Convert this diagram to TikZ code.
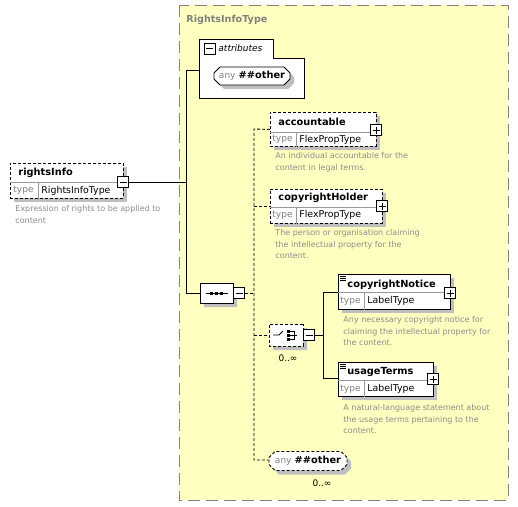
\documentclass[tikz,border=0pt]{standalone}
\usepackage{fontspec}
\setmainfont{DejaVu Sans}
\usetikzlibrary{shapes.misc}
\usetikzlibrary{shadows}
\definecolor{typebg}{RGB}{255,255,192}
\tikzstyle{shade} = [general shadow={fill=black!25, shadow xshift=4pt, shadow yshift=-4pt}]
\tikzstyle{elem} = [draw, fill=white, anchor=north west, inner sep=0pt, shade]
\tikzstyle{opt} = [dash pattern=on 3pt off 2pt]
\tikzstyle{divider} = [black!40]
\tikzstyle{ename} = [anchor=west, inner sep=0pt, font=\fontsize{9.8}{12}\selectfont\bfseries]
\tikzstyle{tlabel} = [anchor=west, inner sep=0pt, text=black!50, font=\fontsize{9}{11}\selectfont]
\tikzstyle{tname} = [anchor=west, inner sep=0pt, font=\fontsize{9.4}{11}\selectfont]
\tikzstyle{descr} = [anchor=north west, inner sep=0pt, text=black!45, align=left, font=\fontsize{8}{11.5}\selectfont]
\tikzstyle{occurs} = [inner sep=0pt, font=\fontsize{9}{11}\selectfont]
\tikzstyle{minus} = [draw, fill=white, minimum size=11pt, inner sep=0pt, path picture={\draw ([xshift=2pt]path picture bounding box.west) -- ([xshift=-2pt]path picture bounding box.east);}]
\tikzstyle{plus} = [draw, fill=white, minimum size=11pt, inner sep=0pt, path picture={\draw ([xshift=2pt]path picture bounding box.west) -- ([xshift=-2pt]path picture bounding box.east); \draw ([yshift=-2pt]path picture bounding box.north) -- ([yshift=2pt]path picture bounding box.south);}]
\tikzstyle{comp} = [draw, fill=white, chamfered rectangle, chamfered rectangle xsep=5pt, chamfered rectangle ysep=5pt, inner sep=0pt, shade]
\tikzstyle{wild} = [draw, fill=white, chamfered rectangle, chamfered rectangle xsep=3pt, chamfered rectangle ysep=3pt, inner sep=0pt, shade]

\begin{document}
\begin{tikzpicture}[x=1pt, y=-1pt, line width=0.9pt]
	\useasboundingbox (0,0) rectangle (518,506);
	% complex type
	\draw[black!50, fill=typebg, dash pattern=on 12pt off 6pt] (179,5) rectangle (508,500);
	\node[anchor=west, inner sep=0pt, text=black!50, font=\fontsize{9.6}{12}\selectfont\bfseries] (rit) at (186,20) {RightsInfoType};

	% rightsInfo
	\node[elem, opt, minimum width=113pt, minimum height=35pt] (ri) at (10,163) {};
	\draw[divider] (ri.west |- 0,182) -- (ri.east |- 0,182);
	\draw[divider] (38,182) -- (ri.south -| 38,0);
	\node[ename] (ri-n) at (18,172.5) {rightsInfo};
	\node[tlabel] (ri-t) at (13,190.5) {type};
	\node[tname] (ri-tn) at (41,190.5) {RightsInfoType};
	\node[minus] (ri-m) at (123,182) {};
	\node[descr] (ri-d) at (15,205) {Expression of rights to be applied to\\content};

	% attributes
	\node[anchor=north west, minimum width=105pt, minimum height=59pt, inner sep=0pt] (attr) at (199,39) {};
	\draw[fill=white] (attr.north west) -- ++(74,0) -- ++(0,19) -| (attr.south east) -- (attr.south west) -- cycle;
	\node[minus] (attr-m) at (209.5,48.5) {};
	\node[anchor=west, inner sep=0pt, font=\fontsize{9}{11}\selectfont\itshape] (attr-n) at (218,48.5) {attributes};
	\node[wild, minimum width=76pt, minimum height=18pt] (any1) at (252,76) {\textcolor{black!50}{\fontsize{9}{11}\selectfont any} {\fontsize{9.8}{12}\selectfont\bfseries\#\#other}};

	% sequence
	\coordinate (t1) at (186,70);
	\coordinate (t2) at (186,293);
	\node[comp, minimum width=33pt, minimum height=20pt] (seq) at (216.5,293) {};
	\draw ([shift={(-11,0)}]seq.center) -- ([shift={(11,0)}]seq.center);
	\foreach \dx in {-5,0,5}
		\fill ([shift={(\dx-1.5,-1.5)}]seq.center) rectangle ++(3,3);
	\node[minus, anchor=west] (seq-m) at (seq.east) {};
	\draw (ri-m.east) -- (ri-m -| t1);
	\draw (t1 -| attr.west) -- (t1) -- (t2) -- (seq.west);

	% accountable
	\node[elem, opt, minimum width=106pt, minimum height=34pt] (acc) at (270,112) {};
	\draw[divider] (acc.west |- 0,132) -- (acc.east |- 0,132);
	\draw[divider] (296,132) -- (acc.south -| 296,0);
	\node[ename] (acc-n) at (278,121.5) {accountable};
	\node[tlabel] (acc-t) at (272,139.5) {type};
	\node[tname] (acc-tn) at (299,139.5) {FlexPropType};
	\node[plus] (acc-p) at (376,130) {};
	\node[descr] (acc-d) at (275,152) {An individual accountable for the\\content in legal terms.};

	% copyrightHolder
	\node[elem, opt, minimum width=112pt, minimum height=34pt] (ch) at (270,189) {};
	\draw[divider] (ch.west |- 0,207) -- (ch.east |- 0,207);
	\draw[divider] (296,207) -- (ch.south -| 296,0);
	\node[ename] (ch-n) at (278,198) {copyrightHolder};
	\node[tlabel] (ch-t) at (272,215) {type};
	\node[tname] (ch-tn) at (299,215) {FlexPropType};
	\node[plus] (ch-p) at (382,206) {};
	\node[descr] (ch-d) at (275,229) {The person or organisation claiming\\the intellectual property for the\\content.};

	% choice
	\node[comp, opt, minimum width=34pt, minimum height=22pt] (chc) at (286,335) {};
	\draw ([shift={(-13,0)}]chc.center) -- ([shift={(-7,0)}]chc.center) -- ([shift={(-3,-4)}]chc.center);
	\foreach \dy in {-4,0,4}
		\fill ([shift={(1,\dy-1.5)}]chc.center) rectangle ++(3,3);
	\draw ([shift={(4,-4)}]chc.center) -- ([shift={(8,-4)}]chc.center) -- ([shift={(8,4)}]chc.center) -- ([shift={(4,4)}]chc.center);
	\draw ([shift={(4,0)}]chc.center) -- ([shift={(11,0)}]chc.center);
	\node[minus, anchor=west] (chc-m) at (chc.east) {};
	\node[occurs] (chc-o) at (288,358) {0..∞};

	% copyrightNotice
	\node[elem, minimum width=112pt, minimum height=35pt] (cn) at (338,274) {};
	\draw[divider] (cn.west |- 0,292) -- (cn.east |- 0,292);
	\draw[divider] (364,292) -- (cn.south -| 364,0);
	\foreach \k in {0,2,4}
		\draw[line width=0.7pt] ([shift={(2,2.5+\k)}]cn.north west) -- ++(6,0);
	\node[ename] (cn-n) at (347,284.5) {copyrightNotice};
	\node[tlabel] (cn-t) at (340,301) {type};
	\node[tname] (cn-tn) at (367,301) {LabelType};
	\node[plus] (cn-p) at (450,293) {};
	\node[descr] (cn-d) at (343,316) {Any necessary copyright notice for\\claiming the intellectual property for\\the content.};

	% usageTerms
	\node[elem, minimum width=95pt, minimum height=34pt] (ut) at (338,362) {};
	\draw[divider] (ut.west |- 0,380) -- (ut.east |- 0,380);
	\draw[divider] (364,380) -- (ut.south -| 364,0);
	\foreach \k in {0,2,4}
		\draw[line width=0.7pt] ([shift={(2,2.5+\k)}]ut.north west) -- ++(6,0);
	\node[ename] (ut-n) at (347,372) {usageTerms};
	\node[tlabel] (ut-t) at (340,389) {type};
	\node[tname] (ut-tn) at (367,389) {LabelType};
	\node[plus] (ut-p) at (433,379) {};
	\node[descr] (ut-d) at (343,404) {A natural-language statement about\\the usage terms pertaining to the\\content.};

	% any ##other
	\node[wild, opt, minimum width=78pt, minimum height=19pt] (any2) at (308,461) {\textcolor{black!50}{\fontsize{9}{11}\selectfont any} {\fontsize{9.8}{12}\selectfont\bfseries\#\#other}};
	\node[occurs] (any2-o) at (322,483) {0..∞};

	% connectors
	\coordinate (d1) at (254,129);
	\coordinate (d2) at (254,460);
	\coordinate (c1) at (323,292);
	\coordinate (c2) at (323,378);
	\draw[opt] (seq-m.east) -- (seq-m -| d1);
	\draw[opt] (acc.west) -- (d1) -- (d2) -- (any2.west |- d2);
	\draw[opt] (d1 |- ch.west) -- (ch.west);
	\draw[opt] (d1 |- chc.west) -- (chc.west);
	\draw (chc-m.east) -- (chc-m -| c1);
	\draw (c1 -| cn.west) -- (c1) -- (c2) -- (c2 -| ut.west);
\end{tikzpicture}
\end{document}
